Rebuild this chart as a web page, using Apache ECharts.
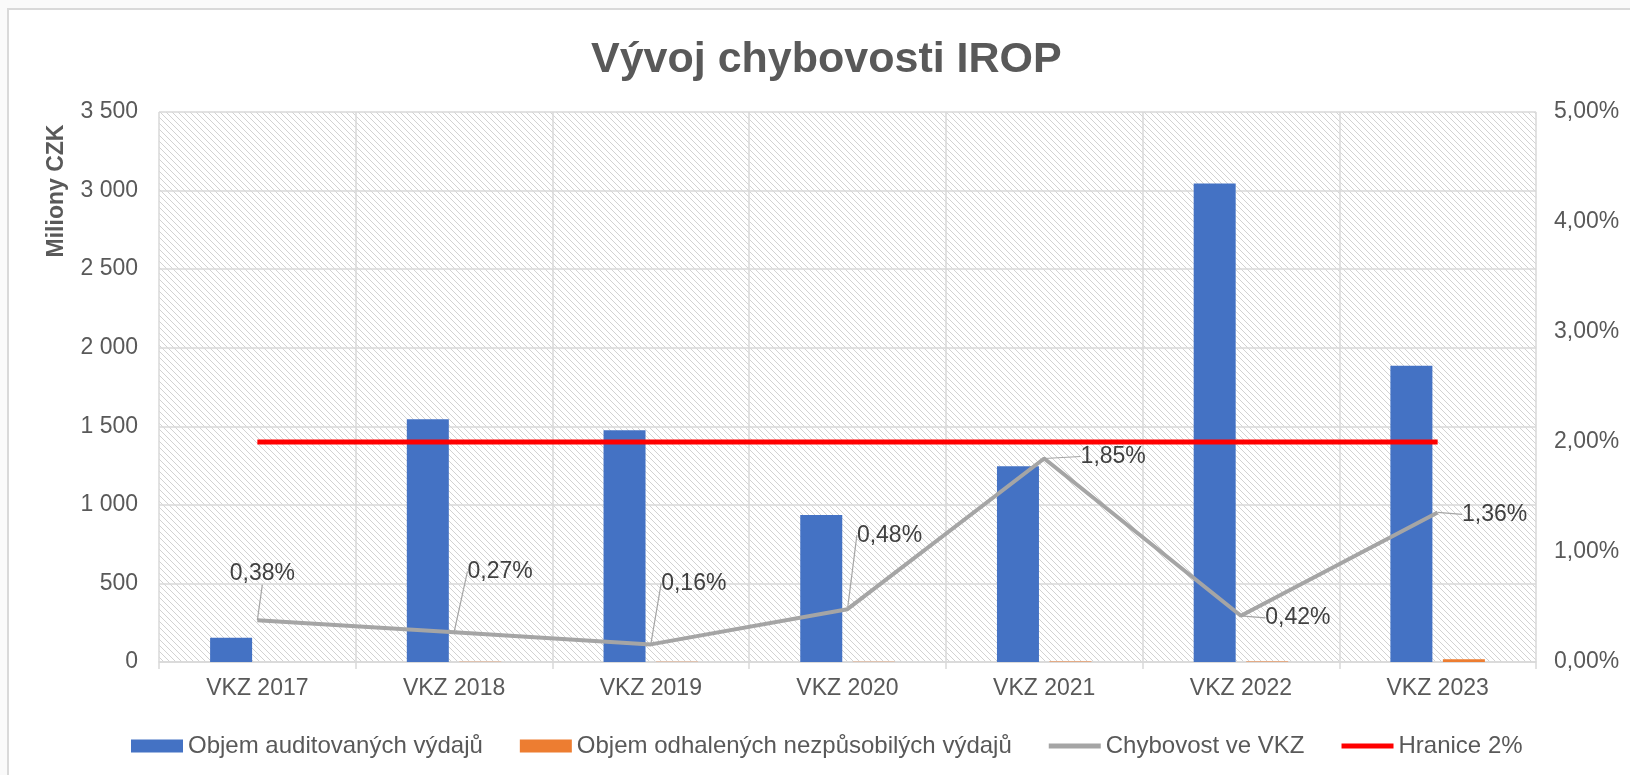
<!DOCTYPE html>
<html>
<head>
<meta charset="utf-8">
<script src="https://cdn.jsdelivr.net/npm/echarts@6/dist/echarts.min.js"></script>
<style>
html,body{margin:0;padding:0;background:#fafafa;}
#chart{width:1630px;height:775px;}
</style>
</head>
<body>
<div id="chart"></div>
<script>
const categories = ['VKZ 2017','VKZ 2018','VKZ 2019','VKZ 2020','VKZ 2021','VKZ 2022','VKZ 2023'];
const auditedSpend = [155, 1545, 1475, 935, 1245, 3045, 1885];
const ineligibleSpend = [0.5, 1, 1, 1, 3, 3, 18];
const errorRate = [0.38, 0.27, 0.16, 0.48, 1.85, 0.42, 1.36];
const threshold = [2, 2, 2, 2, 2, 2, 2];
const leftTicks = {min: 0, max: 3500, interval: 500};
const rightTicks = {min: 0, max: 5, interval: 1};

const seriesNames = ['Objem auditovaných výdajů','Objem odhalených nezpůsobilých výdajů','Chybovost ve VKZ','Hranice 2%'];

// label offsets (styling)
const labelShift = [[5,-47],[46,-61],[43,-61],[42,-74],[69,-2],[57,2],[57,2]];

const TXT = '#595959';
const GRIDC = '#d9d9d9';

function hatch(){
  const c = document.createElement('canvas');
  const s = 6;
  c.width = s; c.height = s;
  const g = c.getContext('2d');
  g.fillStyle = '#ffffff';
  g.fillRect(0,0,s,s);
  g.strokeStyle = '#d2d2d2';
  g.lineWidth = 1;
  g.beginPath();
  g.moveTo(-1,-1); g.lineTo(s+1,s+1);
  g.moveTo(-1-s,-1); g.lineTo(1,s+1);
  g.moveTo(s-1,-1); g.lineTo(2*s+1,s+1);
  g.stroke();
  return c;
}

const fmtThousands = v => String(v).replace(/\B(?=(\d{3})+(?!\d))/g, ' ');
const fmtPct = v => v.toFixed(2).replace('.', ',') + '%';

const chart = echarts.init(document.getElementById('chart'), null, {renderer:'canvas'});
const FONT = 'Liberation Sans, Arial, sans-serif';
const LINE_ICON = 'path://M0,0 L52,0 L52,5 L0,5 Z';

chart.setOption({
  animation: false,
  textStyle: {fontFamily: FONT},
  graphic: [
    {type:'rect', z:-10, shape:{x:8, y:9, width:1700, height:800}, style:{fill:'#ffffff', stroke:'#d9d9d9', lineWidth:2}, silent:true},
    {type:'text', z:10, x:57, y:191, rotation: Math.PI/2, style:{text:'Miliony CZK', fill:TXT, font:'bold 23px ' + FONT, align:'center', verticalAlign:'middle'}}
  ],
  title: {
    text: 'Vývoj chybovosti IROP',
    left: 586,
    top: 34,
    textStyle: {fontSize: 43, fontWeight: 'bold', color: TXT, fontFamily: FONT}
  },
  legend: {
    bottom: 12,
    left: 126,
    itemGap: 37,
    itemWidth: 52,
    itemHeight: 13,
    textStyle: {fontSize: 24, color: TXT, fontFamily: FONT},
    data: [
      {name: seriesNames[0], icon: 'rect'},
      {name: seriesNames[1], icon: 'rect'},
      {name: seriesNames[2], icon: LINE_ICON},
      {name: seriesNames[3], icon: LINE_ICON}
    ]
  },
  grid: {
    left: 159, right: 94, top: 112, bottom: 113,
    show: true,
    borderWidth: 0,
    backgroundColor: {image: hatch(), repeat: 'repeat'}
  },
  xAxis: {
    type: 'category',
    data: categories,
    boundaryGap: true,
    axisLine: {lineStyle: {color: GRIDC, width: 1.5}},
    axisTick: {show: true, length: 7, lineStyle: {color: GRIDC, width: 1.5}},
    splitLine: {show: true, lineStyle: {color: GRIDC, width: 1.5}},
    axisLabel: {color: TXT, fontSize: 23, margin: 15, fontFamily: FONT}
  },
  yAxis: [
    {
      type: 'value',
      min: leftTicks.min, max: leftTicks.max, interval: leftTicks.interval,
      axisLine: {show: false},
      axisTick: {show: false},
      splitLine: {lineStyle: {color: GRIDC, width: 1.5}},
      axisLabel: {color: TXT, fontSize: 23, margin: 21, formatter: fmtThousands, fontFamily: FONT}
    },
    {
      type: 'value',
      min: rightTicks.min, max: rightTicks.max, interval: rightTicks.interval,
      axisLine: {show: false},
      axisTick: {show: false},
      splitLine: {show: false},
      axisLabel: {color: TXT, fontSize: 23, margin: 18, formatter: fmtPct, fontFamily: FONT}
    }
  ],
  series: [
    {
      name: seriesNames[0], type: 'bar', yAxisIndex: 0,
      data: auditedSpend, barWidth: 42, barGap: '25%',
      itemStyle: {color: '#4472c4'}
    },
    {
      name: seriesNames[1], type: 'bar', yAxisIndex: 0,
      data: ineligibleSpend, barWidth: 42,
      itemStyle: {color: '#ed7d31'}
    },
    {
      name: seriesNames[2], type: 'line', yAxisIndex: 1,
      data: errorRate,
      symbol: 'circle', symbolSize: 0.1, showSymbol: true,
      lineStyle: {color: '#a5a5a5', width: 4},
      itemStyle: {color: '#a5a5a5'},
      z: 5,
      label: {
        show: true, position: 'inside', color: '#404040', fontSize: 23, fontFamily: FONT,
        formatter: p => fmtPct(p.value)
      },
      labelLine: {show: true, lineStyle: {color: '#a5a5a5', width: 1.2}},
      labelLayout: p => ({dx: labelShift[p.dataIndex][0], dy: labelShift[p.dataIndex][1]})
    },
    {
      name: seriesNames[3], type: 'line', yAxisIndex: 1,
      data: threshold,
      symbol: 'none',
      lineStyle: {color: '#ff0000', width: 5},
      itemStyle: {color: '#ff0000'},
      z: 4
    }
  ]
});
</script>
</body>
</html>
